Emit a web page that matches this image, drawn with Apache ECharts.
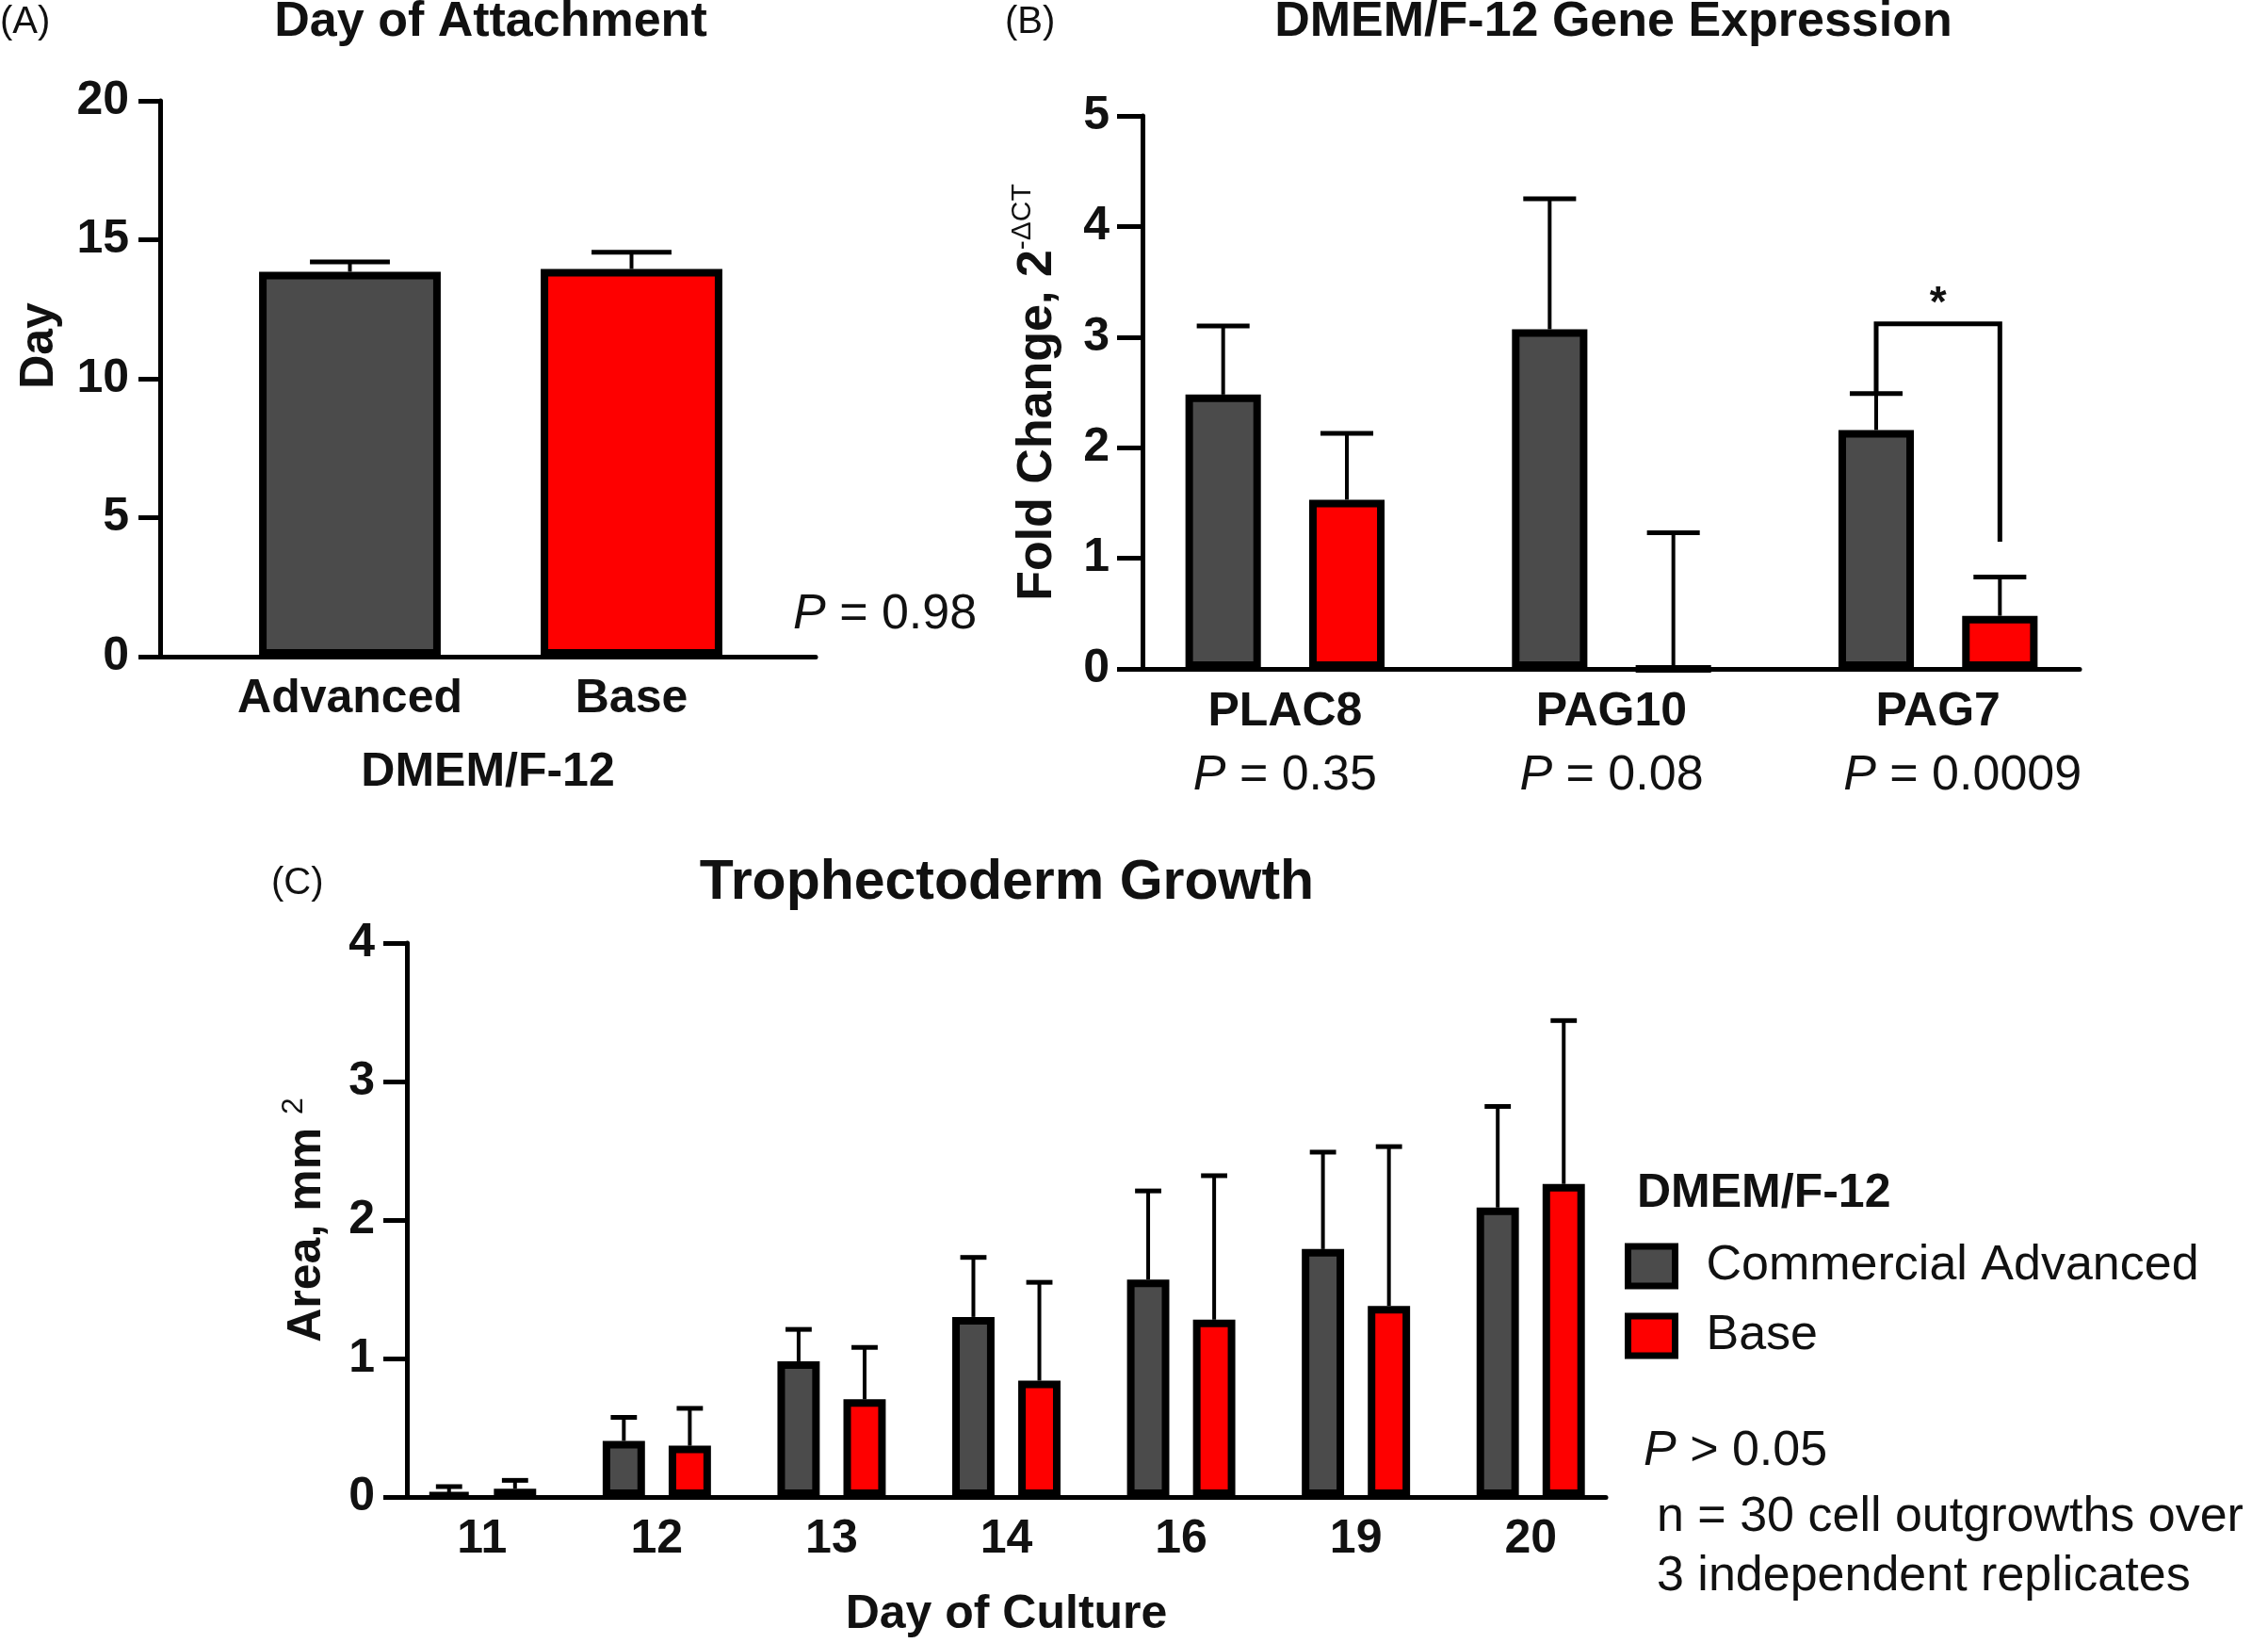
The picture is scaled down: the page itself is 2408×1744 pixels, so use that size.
<!DOCTYPE html>
<html><head><meta charset="utf-8">
<script src="https://cdn.jsdelivr.net/npm/echarts@6/dist/echarts.min.js"></script>
<style>html,body{margin:0;padding:0;background:#fff}#c{width:2408px;height:1744px}</style>
</head><body><div id="c"></div>
<script>
// ---------- Data ----------
const categoriesA = ['Advanced', 'Base'];
const attachDayMean = [13.85, 13.95];
const attachDayUpper = [14.2, 14.55];
const yTicksA = [0, 20, 5];           // min, max, interval

const genesB = ['PLAC8', 'PAG10', 'PAG7'];
const pValuesB = ['0.35', '0.08', '0.0009'];
const advancedB = [2.48, 3.07, 2.16];
const advancedUpperB = [3.1, 4.25, 2.49];
const baseB = [1.53, 0, 0.48];
const baseUpperB = [2.13, 1.23, 0.83];
const bracketB = [2, 2.49, 3.12, 1.15]; // category index, left leg from, bracket top, right leg to
const yTicksB = [0, 5, 1];

const daysC = ['11', '12', '13', '14', '16', '19', '20'];
const advancedC = [0.02, 0.405, 0.98, 1.30, 1.57, 1.79, 2.09];
const advancedUpperC = [0.075, 0.575, 1.21, 1.73, 2.21, 2.49, 2.82];
const baseC = [0.06, 0.37, 0.705, 0.84, 1.28, 1.38, 2.26];
const baseUpperC = [0.12, 0.64, 1.08, 1.55, 2.32, 2.53, 3.44];
const yTicksC = [0, 4, 1];
const seriesNamesC = ['Commercial Advanced', 'Base'];

// ---------- Styles ----------
const FONT = "'Liberation Sans', Arial, Helvetica, sans-serif";
const GRAY = '#4b4b4b';
const RED = '#fe0000';
const INK = '#111111';
const BORDER = 8;
const BAR_A = { w: 0.645 };
const BAR_B = { w: 0.231, gap: 0.64 };
const BAR_C = { w: 0.242, gap: 0.56 };
const PVAL_PAD_B = [0, 0, 52];   // left padding nudging each P-value line (layout only)

function errRender(bw, bg, idx, n, capFrac, lw) {
  return function (params, api) {
    const cat = api.value(0), lo = api.value(1), hi = api.value(2);
    const band = api.size([1, 0])[0];
    const barW = band * bw, gap = barW * bg;
    let off = 0;
    if (n === 2) off = (idx === 0 ? -1 : 1) * (gap / 2 + barW / 2);
    const p0 = api.coord([cat, lo]);
    const p1 = api.coord([cat, hi]);
    const x = p0[0] + off;
    const cw = barW * capFrac / 2;
    return {
      type: 'group', children: [
        { type: 'line', shape: { x1: x, y1: p0[1], x2: x, y2: p1[1] }, style: { stroke: '#000', lineWidth: lw } },
        { type: 'line', shape: { x1: x - cw, y1: p1[1], x2: x + cw, y2: p1[1] }, style: { stroke: '#000', lineWidth: 5 } }
      ]
    };
  };
}

function yAxisBase(t, tickLen, margin, extra) {
  return Object.assign({
    type: 'value', min: t[0], max: t[1], interval: t[2],
    axisLine: { show: true, lineStyle: { color: '#000', width: 5 } },
    axisTick: { show: true, inside: false, length: tickLen, lineStyle: { color: '#000', width: 5 } },
    splitLine: { show: false },
    axisLabel: { fontSize: 50, fontWeight: 'bold', fontFamily: FONT, color: INK, margin: margin },
    nameLocation: 'middle',
    nameTextStyle: { fontSize: 50, fontWeight: 'bold', fontFamily: FONT, color: INK }
  }, extra);
}
function hiddenY(t, gi) { return { gridIndex: gi, type: 'value', min: t[0], max: t[1], show: false }; }
function frameX(gi, data, extra) {
  return Object.assign({ gridIndex: gi, type: 'category', data: data,
    axisLine: { show: true, lineStyle: { color: '#000', width: 5 } },
    axisTick: { show: false }, axisLabel: { show: false } }, extra || {});
}

const boldLbl = { fontSize: 50, fontWeight: 'bold', fontFamily: FONT, color: INK };

function txt(x, y, text, size, weight, align, rich) {
  const st = { text: text, x: 0, y: 0, fontSize: size, fontWeight: weight, fontFamily: FONT, fill: INK, align: align, verticalAlign: 'middle' };
  if (rich) st.rich = rich;
  return { type: 'text', x: x, y: y, style: st, z: 100 };
}
const italicRich = { i: { fontStyle: 'italic', fontSize: 52, fontFamily: FONT, fill: INK } };
const g = (l, t, w, h) => ({ left: l, top: t, width: w, height: h, containLabel: false, outerBoundsMode: 'none' });

const richB = {
  b: { fontSize: 50, fontWeight: 'bold', fontFamily: FONT, color: INK, lineHeight: 68 },
  q: { fontSize: 52, fontFamily: FONT, color: INK, lineHeight: 68 }
};
PVAL_PAD_B.forEach((pad, i) => {
  richB['p' + i] = { fontSize: 52, fontStyle: 'italic', fontFamily: FONT, color: INK, lineHeight: 68, padding: [0, 0, 0, pad] };
});

const option = {
  animation: false,
  backgroundColor: '#fff',
  grid: [
    g(170, 107, 696, 590),   // A frame
    g(222, 107, 598, 590),   // A bars
    g(1213, 123, 995, 587),  // B frame
    g(1191, 123, 1040, 587), // B bars
    g(432, 1001, 1273, 588), // C frame
    g(419, 1001, 1299, 588)  // C bars
  ],
  xAxis: [
    frameX(0, categoriesA, { name: 'DMEM/F-12', nameLocation: 'middle', nameGap: 98, nameTextStyle: boldLbl }),
    { gridIndex: 1, type: 'category', data: categoriesA,
      axisLine: { show: false }, axisTick: { show: false },
      axisLabel: Object.assign({ margin: 20, interval: 0 }, boldLbl) },
    frameX(2, genesB),
    { gridIndex: 3, type: 'category', data: genesB,
      axisLine: { show: false }, axisTick: { show: false },
      axisLabel: {
        margin: 12, interval: 0,
        formatter: function (v, i) { return '{b|' + v + '}\n{p' + i + '|P}{q| = ' + pValuesB[i] + '}'; },
        rich: richB
      } },
    frameX(4, daysC, { name: 'Day of Culture', nameLocation: 'middle', nameGap: 100, nameTextStyle: boldLbl }),
    { gridIndex: 5, type: 'category', data: daysC,
      axisLine: { show: false }, axisTick: { show: false },
      axisLabel: Object.assign({ margin: 20, interval: 0 }, boldLbl) }
  ],
  yAxis: [
    yAxisBase(yTicksA, 23, 33, { gridIndex: 0, name: 'Day', nameGap: 103,
      nameTextStyle: { fontSize: 50, fontWeight: 'bold', fontFamily: FONT, color: INK, padding: [0, 0, 0, 70] } }),
    hiddenY(yTicksA, 1),
    yAxisBase(yTicksB, 27, 35, { gridIndex: 2, name: '{a|Fold Change, 2}{s|-ΔCT}', nameGap: 80,
      nameTextStyle: { rich: {
        a: { fontSize: 52, fontWeight: 'bold', fontFamily: FONT, color: INK, lineHeight: 62 },
        s: { fontSize: 30, fontFamily: FONT, color: INK, verticalAlign: 'top', lineHeight: 42 }
      } } }),
    hiddenY(yTicksB, 3),
    yAxisBase(yTicksC, 25, 34, { gridIndex: 4, name: '{a|Area, mm }{s|2}', nameGap: 76,
      nameTextStyle: { rich: {
        a: { fontSize: 50, fontWeight: 'bold', fontFamily: FONT, color: INK, lineHeight: 60 },
        s: { fontSize: 32, fontFamily: FONT, color: INK, verticalAlign: 'top', lineHeight: 36 }
      } } }),
    hiddenY(yTicksC, 5)
  ],
  legend: {
    data: seriesNamesC, orient: 'vertical', left: 1725, top: 1318,
    itemWidth: 50, itemHeight: 42, itemGap: 22, icon: 'rect', padding: 0,
    selectedMode: false,
    itemStyle: { borderColor: '#000', borderWidth: 7 },
    textStyle: { fontSize: 52, fontFamily: FONT, color: INK, padding: [0, 0, 0, 28] }
  },
  series: [
    // Panel A
    { type: 'bar', name: 'A', xAxisIndex: 1, yAxisIndex: 1, barWidth: (BAR_A.w * 100) + '%',
      itemStyle: { borderColor: '#000', borderWidth: BORDER },
      data: attachDayMean.map((v, i) => ({ value: v, itemStyle: { color: i === 0 ? GRAY : RED } })) },
    { type: 'custom', name: 'A err', xAxisIndex: 1, yAxisIndex: 1, z: 5, clip: false,
      renderItem: errRender(BAR_A.w, 0, 0, 1, 0.44, 4),
      data: attachDayMean.map((v, i) => [i, v, attachDayUpper[i]]) },
    // Panel B
    { type: 'bar', name: 'Advanced B', xAxisIndex: 3, yAxisIndex: 3, barWidth: (BAR_B.w * 100) + '%', barGap: (BAR_B.gap * 100) + '%',
      itemStyle: { color: GRAY, borderColor: '#000', borderWidth: BORDER }, data: advancedB },
    { type: 'bar', name: 'Base B', xAxisIndex: 3, yAxisIndex: 3, barWidth: (BAR_B.w * 100) + '%', barGap: (BAR_B.gap * 100) + '%',
      itemStyle: { color: RED, borderColor: '#000', borderWidth: BORDER }, data: baseB },
    { type: 'custom', name: 'B err1', xAxisIndex: 3, yAxisIndex: 3, z: 5, clip: false,
      renderItem: errRender(BAR_B.w, BAR_B.gap, 0, 2, 0.7, 4),
      data: advancedB.map((v, i) => [i, v, advancedUpperB[i]]) },
    { type: 'custom', name: 'B err2', xAxisIndex: 3, yAxisIndex: 3, z: 5, clip: false,
      renderItem: errRender(BAR_B.w, BAR_B.gap, 1, 2, 0.7, 4),
      data: baseB.map((v, i) => [i, v, baseUpperB[i]]) },
    { type: 'custom', name: 'B bracket', xAxisIndex: 3, yAxisIndex: 3, z: 6, clip: false,
      renderItem: function (params, api) {
        const cat = api.value(0);
        const band = api.size([1, 0])[0];
        const barW = band * BAR_B.w, gap = barW * BAR_B.gap;
        const off = gap / 2 + barW / 2;
        const l = api.coord([cat, api.value(1)]);
        const t = api.coord([cat, api.value(2)]);
        const r = api.coord([cat, api.value(3)]);
        const xl = t[0] - off, xr = t[0] + off;
        return { type: 'group', children: [
          { type: 'polyline', shape: { points: [[xl, l[1]], [xl, t[1]], [xr, t[1]], [xr, r[1]]] },
            style: { stroke: '#000', lineWidth: 5, fill: null } },
          { type: 'text', x: (xl + xr) / 2, y: t[1] - 20,
            style: { text: '*', fontSize: 46, fontWeight: 'bold', fontFamily: FONT, fill: INK, align: 'center', verticalAlign: 'middle' } }
        ] };
      },
      data: [bracketB] },
    // Panel C
    { type: 'bar', name: seriesNamesC[0], xAxisIndex: 5, yAxisIndex: 5, barWidth: (BAR_C.w * 100) + '%', barGap: (BAR_C.gap * 100) + '%',
      itemStyle: { color: GRAY, borderColor: '#000', borderWidth: BORDER }, data: advancedC },
    { type: 'bar', name: seriesNamesC[1], xAxisIndex: 5, yAxisIndex: 5, barWidth: (BAR_C.w * 100) + '%', barGap: (BAR_C.gap * 100) + '%',
      itemStyle: { color: RED, borderColor: '#000', borderWidth: BORDER }, data: baseC },
    { type: 'custom', name: 'C err1', xAxisIndex: 5, yAxisIndex: 5, z: 5, clip: false,
      renderItem: errRender(BAR_C.w, BAR_C.gap, 0, 2, 0.62, 4),
      data: advancedC.map((v, i) => [i, v, advancedUpperC[i]]) },
    { type: 'custom', name: 'C err2', xAxisIndex: 5, yAxisIndex: 5, z: 5, clip: false,
      renderItem: errRender(BAR_C.w, BAR_C.gap, 1, 2, 0.62, 4),
      data: baseC.map((v, i) => [i, v, baseUpperC[i]]) }
  ],
  graphic: [
    txt(0, 24, '(A)', 40, 'normal', 'left'),
    txt(1067, 24, '(B)', 40, 'normal', 'left'),
    txt(288, 938, '(C)', 40, 'normal', 'left'),
    txt(521, 24, 'Day of Attachment', 52, 'bold', 'center'),
    txt(1713, 24, 'DMEM/F-12 Gene Expression', 52, 'bold', 'center'),
    txt(1069, 938, 'Trophectoderm Growth', 59, 'bold', 'center'),
    txt(842, 653, '{i|P} = 0.98', 52, 'normal', 'left', italicRich),
    txt(1738, 1267, 'DMEM/F-12', 50, 'bold', 'left'),
    txt(1745, 1541, '{i|P} > 0.05', 52, 'normal', 'left', italicRich),
    txt(1759, 1611, 'n = 30 cell outgrowths over', 52, 'normal', 'left'),
    txt(1759, 1674, '3 independent replicates', 52, 'normal', 'left')
  ]
};

const chart = echarts.init(document.getElementById('c'), null, { renderer: 'canvas', width: 2408, height: 1744 });
chart.setOption(option);
</script>
</body></html>
